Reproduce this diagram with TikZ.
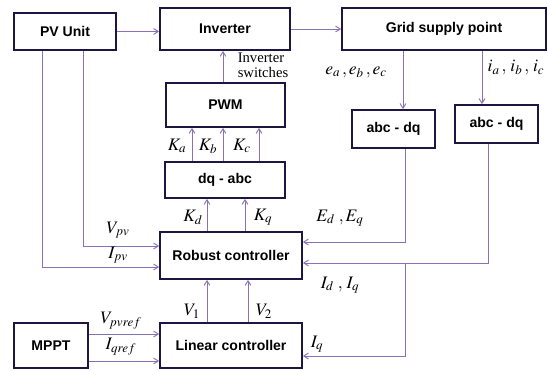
\documentclass[tikz,border=0pt]{standalone}
\usepackage{mathptmx}
\usepackage{fontspec}
\setmainfont{Liberation Serif}
\newfontfamily\blockfont{Liberation Sans}
\usetikzlibrary{arrows.meta,positioning,calc}
\definecolor{linkline}{RGB}{140,112,180}
\definecolor{boxline}{RGB}{28,22,64}

\begin{document}
\begin{tikzpicture}[
    x=0.03cm, y=-0.03cm,
    block/.style={rectangle, draw=boxline, line width=1.5pt, fill=white, align=center, font=\blockfont\bfseries\fontsize{12}{14}\selectfont},
    sig/.style={font=\fontsize{15}{17}\selectfont, inner sep=1pt},
    arrow/.style={-{Straight Barb[length=4pt,width=5pt]}, draw=linkline, line width=0.8pt},
]
    \useasboundingbox (0,0) rectangle (548,371);

    % top row
    \node[block, minimum width=3.06cm, minimum height=1.11cm] (pv) at (65,31.5) {PV Unit};
    \node[block, minimum width=3.9cm, minimum height=1.26cm] (inv) at (225,29) {Inverter};
    \node[block, minimum width=6.12cm, minimum height=1.26cm] (grid) at (444,29) {Grid supply point};

    % inverter control chain
    \node[block, minimum width=3.57cm, minimum height=1.32cm] (pwm) at (225.5,105) {PWM};
    \node[block, minimum width=3.6cm, minimum height=1.08cm] (dqabc) at (225,180) {dq - abc};
    \node[block, minimum width=4.26cm, minimum height=1.41cm] (robust) at (231,255.5) {Robust controller};
    \node[block, minimum width=4.26cm, minimum height=1.35cm] (linear) at (231,345.5) {Linear controller};
    \node[block, minimum width=2.22cm, minimum height=1.35cm] (mppt) at (51,345.5) {MPPT};

    % measurement transforms
    \node[block, minimum width=2.49cm, minimum height=1.14cm] (abcdqE) at (393.5,129) {abc - dq};
    \node[block, minimum width=2.49cm, minimum height=1.14cm] (abcdqI) at (496.5,124) {abc - dq};

    \coordinate (jq) at (405,263);

    \draw[arrow] (pv.east) -- (pv.east -| inv.west);
    \draw[arrow] (inv.east |- grid.west) -- (grid.west);
    \draw[arrow] (pwm.north -| 223,0) -- (inv.south -| 223,0);
    \node[font=\fontsize{12.5}{12.5}\selectfont, align=left, inner sep=0pt] (swlab) at (263,65) {Inverter\\switches};

    \foreach \xx/\kk in {192/a, 223/b, 259/c}
        \draw[arrow] (dqabc.north -| \xx,0) -- (pwm.south -| \xx,0);
    \node[sig] (ka) at (177,146) {$K_{a}$};
    \node[sig] (kb) at (208,146) {$K_{b}$};
    \node[sig] (kc) at (242,146) {$K_{c}$};

    \draw[arrow] (robust.north -| 207,0) -- (dqabc.south -| 207,0);
    \draw[arrow] (robust.north -| 245,0) -- (dqabc.south -| 245,0);
    \node[sig] (kd) at (193,217) {$K_{d}$};
    \node[sig] (kq) at (263,217) {$K_{q}$};

    \draw[arrow] (pv.south -| 83,0) |- (robust.west |- 0,246);
    \draw[arrow] (pv.south -| 42,0) |- (robust.west |- 0,267);
    \node[sig] (vpv) at (118,230) {$V_{pv}$};
    \node[sig] (ipv) at (118,255) {$I_{pv}$};

    \draw[arrow] (linear.north -| 207,0) -- (robust.south -| 207,0);
    \draw[arrow] (linear.north -| 248,0) -- (robust.south -| 248,0);
    \node[sig] (v1) at (192,311) {$V_{1}$};
    \node[sig] (v2) at (264,311) {$V_{2}$};

    \draw[arrow] (mppt.east |- 0,334) -- (linear.west |- 0,334);
    \draw[arrow] (mppt.east |- 0,361) -- (linear.west |- 0,361);
    \node[sig] (vref) at (121,321) {$V_{pvref}$};
    \node[sig] (iref) at (121,347) {$I_{qref}$};

    \draw[arrow] (grid.south -| 403,0) -- (abcdqE.north -| 403,0);
    \draw[arrow] (grid.south -| 482,0) -- (abcdqI.north -| 482,0);
    \node[sig] (eabc) at (356,72) {$e_{a}\,,e_{b}\,,e_{c}$};
    \node[sig] (iabc) at (516,68) {$i_{a}\,,\,i_{b}\,,\,i_{c}$};

    \draw[arrow] (abcdqE.south -| 405,0) |- (robust.east |- 0,242);
    \draw[arrow] (abcdqI.south -| 488,0) |- (robust.east |- jq);
    \draw[arrow] (jq) |- (linear.east |- 0,356);
    \node[sig] (edq) at (340,218) {$E_{d}\;,E_{q}$};
    \node[sig] (idq) at (340,285) {$I_{d}\;,\,I_{q}$};
    \node[sig] (iq) at (317,344) {$I_{q}$};
\end{tikzpicture}
\end{document}
